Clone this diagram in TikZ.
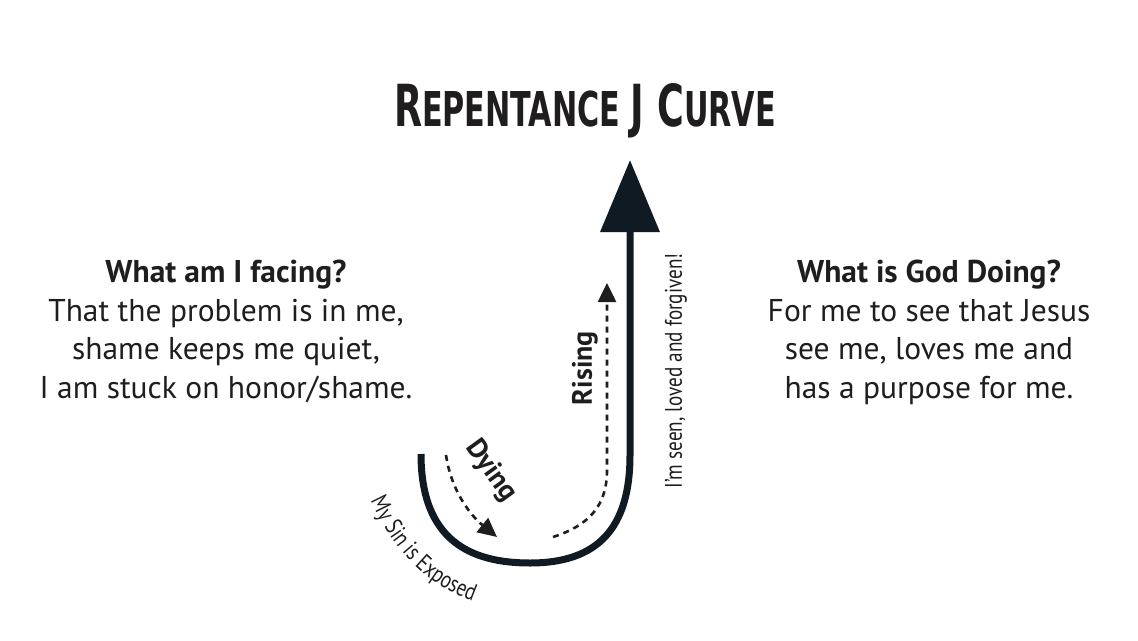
\documentclass[tikz,border=0pt]{standalone}
\usepackage{fontspec}
\setmainfont{PT Sans}
\newfontfamily\condfont[FakeStretch=0.8]{PT Sans}
\newfontfamily\titlefont[FakeStretch=0.7]{DejaVu Sans Condensed}
\usetikzlibrary{arrows.meta,decorations.text}
\definecolor{ink}{HTML}{1F1D1E}
\definecolor{jcol}{HTML}{101A22}

\begin{document}
\begin{tikzpicture}[
  x=1pt, y=-1pt,
  every node/.style={text=ink, inner sep=0pt},
  block/.style={align=center, anchor=base, font=\fontsize{31.5}{38.5}\selectfont},
  jline/.style={line width=7pt, jcol, -{Triangle[length=72pt,width=58pt]}},
  walk/.style={line width=2.6pt, ink, dash pattern=on 6pt off 5pt, -{Triangle[length=19pt,width=18pt]}},
  tag/.style={font=\condfont\fontsize{24}{24}\selectfont},
]
\useasboundingbox (0,0) rectangle (1138,640);
% title
\node[anchor=base] (title) at (585,126)
  {\titlefont\bfseries\fontsize{58}{58}\selectfont R\fontsize{48}{48}\selectfont EPENTANCE
   \fontsize{58}{58}\selectfont J C\fontsize{48}{48}\selectfont URVE};
% side texts (base = last line)
\node[block] (facing) at (226,398)
  {\textbf{What am I facing?}\\That the problem is in me,\\shame keeps me quiet,\\I am stuck on honor/shame.};
\node[block] (doing) at (929,398)
  {\textbf{What is God Doing?}\\For me to see that Jesus\\see me, loves me and\\has a purpose for me.};
% the J
\coordinate (jstart) at (421,454);
\coordinate (jlow) at (530,563);
\coordinate (jturn) at (630,455);
\coordinate (jtip) at (630,160);
\draw[jline] (jstart) .. controls (421,540) and (470,563) .. (jlow)
  .. controls (598,563) and (630,528) .. (jturn) -- (jtip);
% dying / rising
\coordinate (dstart) at (446,455);
\coordinate (dend) at (497,537);
\draw[walk] (dstart) .. controls (451,490) and (470,515) .. (dend);
\coordinate (rstart) at (553,537);
\coordinate (rturn) at (607,470);
\coordinate (rend) at (607,283);
\draw[walk] (rstart) .. controls (590,525) and (607,505) .. (rturn) -- (rend);
\node[font=\bfseries\fontsize{28}{28}\selectfont, rotate=-54] (dying) at (491,471) {Dying};
\node[font=\bfseries\fontsize{28}{28}\selectfont, rotate=90] (rising) at (585,368) {Rising};
\node[tag, rotate=90] (seen) at (676,371) {I’m seen, loved and forgiven!};
% curved label
\path[decorate, decoration={text along path, text align=center,
  text={|\condfont\fontsize{24}{24}\selectfont\color{ink}|My Sin is Exposed}}]
  (364,486) .. controls (392,554) and (430,590) .. (488,606);
\end{tikzpicture}
\end{document}
